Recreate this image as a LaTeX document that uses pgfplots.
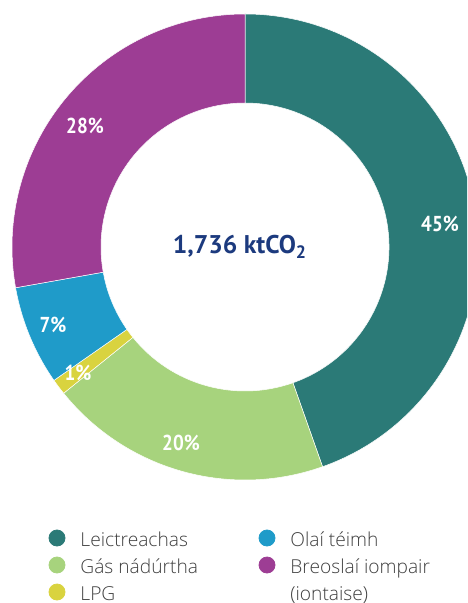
\documentclass[border=0pt]{standalone}
\usepackage{pgfplots}
\usepackage{pgfplotstable}
\usepackage{graphicx}
\pgfplotsset{compat=1.18}
\usepackage{fontspec}
\setmainfont{PT Sans}
\newfontfamily\legfont{Open Sans Light}

\definecolor{cLei}{HTML}{2B7A77}
\definecolor{cGas}{HTML}{A7D37D}
\definecolor{cLPG}{HTML}{D9D33F}
\definecolor{cOla}{HTML}{1F9BC9}
\definecolor{cBre}{HTML}{9D3D94}
\definecolor{cTxt}{HTML}{1C3A7E}
\definecolor{cLeg}{HTML}{404040}

% sciar (%), deiseal ón mbarr
\pgfplotstableread{
share col
44.6 cLei
19.6 cGas
1.1  cLPG
6.9  cOla
27.8 cBre
}\donut

\newcommand\pct[1]{\scalebox{0.88}[1]{#1}}

\begin{document}
\begin{tikzpicture}
\begin{axis}[
  scale only axis, width=233.5pt, height=301.5pt,
  xmin=0, xmax=467, ymin=0, ymax=603, y dir=reverse,
  hide axis, clip=true,
]
\def\cx{245}\def\cy{247}\def\Ro{233}\def\Ri{144}
\def\acc{0}
\pgfplotsforeachungrouped \i in {0,...,4}{%
  \pgfplotstablegetelem{\i}{share}\of\donut \let\v=\pgfplotsretval
  \pgfplotstablegetelem{\i}{col}\of\donut \let\c=\pgfplotsretval
  \pgfmathsetmacro{\aS}{90-3.6*\acc}
  \pgfmathsetmacro{\aE}{90-3.6*(\acc+\v)}
  \pgfmathsetmacro{\xo}{\cx+\Ro*cos(\aS)}
  \pgfmathsetmacro{\yo}{\cy-\Ro*sin(\aS)}
  \pgfmathsetmacro{\xi}{\cx+\Ri*cos(\aE)}
  \pgfmathsetmacro{\yi}{\cy-\Ri*sin(\aE)}
  \edef\wedge{\noexpand\fill[\c, draw=white, line width=0.25pt]
    (axis cs:\xo,\yo) arc[start angle=\aS, end angle=\aE, radius=116.5pt]
    -- (axis cs:\xi,\yi) arc[start angle=\aE, end angle=\aS, radius=72pt] -- cycle;}
  \wedge
  \pgfmathsetmacro{\acc}{\acc+\v}
}
% lipéid
\tikzset{lab/.style={font=\bfseries\fontsize{10.8}{12}\selectfont, text=white, inner sep=0pt}}
\node[lab] at (axis cs:440,224) {\pct{45\%}};
\node[lab] at (axis cs:181,443) {\pct{20\%}};
\node[lab] at (axis cs:78,373) {\pct{1\%}};
\node[lab] at (axis cs:53,325) {\pct{7\%}};
\node[lab] at (axis cs:85,126) {\pct{28\%}};
\node[font=\bfseries\fontsize{12.8}{14}\selectfont, text=cTxt] at (axis cs:240,247) {1,736 ktCO\textsubscript{2}};
% eochair
\addplot[only marks, mark=*, mark size=4pt, color=cLei] coordinates {(57,538)};
\addplot[only marks, mark=*, mark size=4pt, color=cGas] coordinates {(57,565)};
\addplot[only marks, mark=*, mark size=4pt, color=cLPG] coordinates {(57,592)};
\addplot[only marks, mark=*, mark size=4pt, color=cOla] coordinates {(267,538)};
\addplot[only marks, mark=*, mark size=4pt, color=cBre] coordinates {(267,565)};
\tikzset{leg/.style={anchor=base west, inner sep=0pt, text=cLeg, font=\legfont\fontsize{9.6}{11}\selectfont}}
\node[leg] at (axis cs:80,546.5) {Leictreachas};
\node[leg] at (axis cs:80,573.5) {Gás nádúrtha};
\node[leg] at (axis cs:80,600) {LPG};
\node[leg] at (axis cs:290,546.5) {Olaí téimh};
\node[leg] at (axis cs:290,573.5) {Breoslaí iompair};
\node[leg] at (axis cs:290,600) {(iontaise)};
\end{axis}
\pgfresetboundingbox
\useasboundingbox (current axis.south west) rectangle (current axis.north east);
\end{tikzpicture}
\end{document}
